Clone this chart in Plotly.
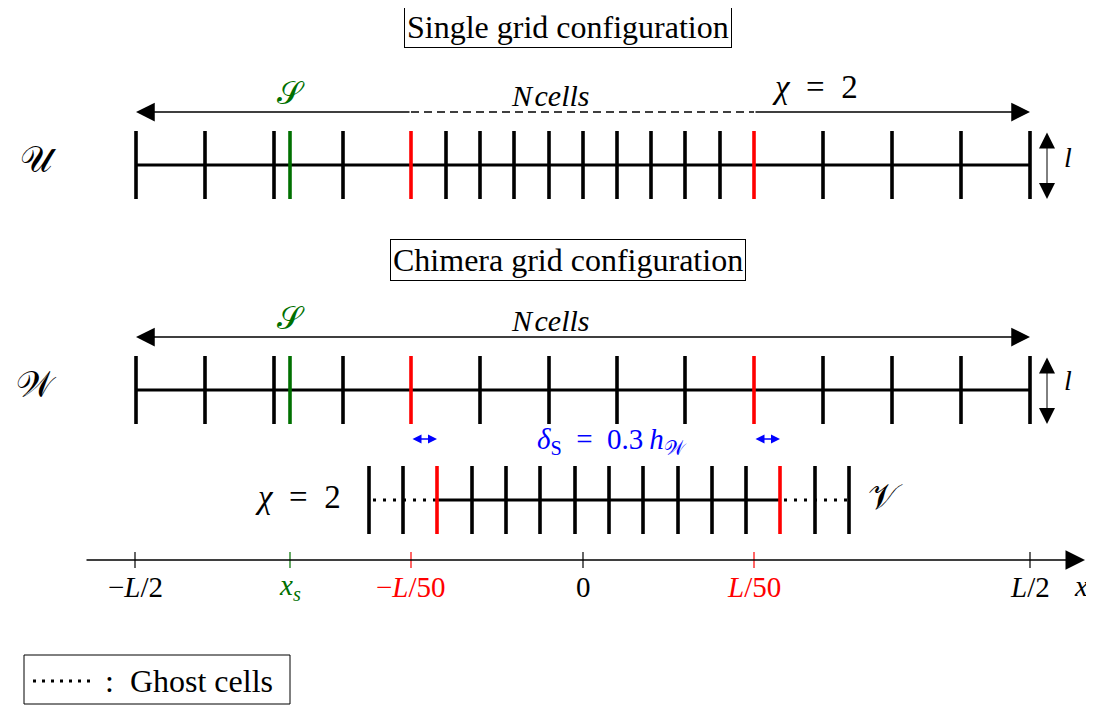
import plotly.graph_objects as go

FONT = "Liberation Serif"
GREEN = "#007000"
RED = "#ff0000"
BLUE = "#0000ff"

# ---------------- data (schematic positions, diagram units) ----------------
# single grid U : cell faces (coarse / refined by chi = 2 / coarse)
U_faces = [136, 205, 274, 343, 446, 480, 514, 549, 583, 617, 651, 685, 720, 823, 892, 961, 1030]
U_interfaces = [411, 754]
# chimera background grid W
W_faces = [136, 205, 274, 343, 480, 549, 617, 685, 823, 892, 961, 1030]
W_interfaces = [411, 754]
# chimera patch grid V (ghost faces + fluid faces + interfaces)
V_faces = [472, 506, 540, 575, 609, 643, 678, 712, 746]
V_ghost_faces = [369, 403, 815, 849]
V_interfaces = [437, 780]
# source position
source_x = 290
# x axis
axis_ticks = [135, 290, 411, 583, 754, 1030]
axis_labels = ["−<i>L</i>/2", "<i>x<sub>s</sub></i>", "−<i>L</i>/50", "0", "<i>L</i>/50", "<i>L</i>/2"]
axis_colors = ["black", GREEN, RED, "black", RED, "black"]

# row levels
yU, yW, yV, yA = 165, 390, 500, 560
h = 34
TW = 3.6   # face line width
HW = 3.2   # grid line width

fig = go.Figure()


def vsegs(xs, yc, half):
    X, Y = [], []
    for x in xs:
        X += [x, x, None]
        Y += [yc - half, yc + half, None]
    return X, Y


def add_line(X, Y, color="black", width=TW, dash="solid"):
    fig.add_trace(go.Scatter(x=X, y=Y, mode="lines", line=dict(color=color, width=width, dash=dash),
                             hoverinfo="skip", showlegend=False))


# ---- U row
add_line([min(U_faces), max(U_faces)], [yU, yU], width=HW)
add_line(*vsegs(U_faces, yU, h))
add_line(*vsegs(U_interfaces, yU, h), color=RED)
add_line(*vsegs([source_x], yU, h), color=GREEN)

# ---- W row
add_line([min(W_faces), max(W_faces)], [yW, yW], width=HW)
add_line(*vsegs(W_faces, yW, h))
add_line(*vsegs(W_interfaces, yW, h), color=RED)
add_line(*vsegs([source_x], yW, h), color=GREEN)

# ---- V row
add_line([V_interfaces[0], V_interfaces[1]], [yV, yV], width=HW)
add_line([V_ghost_faces[0] + 4, V_interfaces[0]], [yV, yV], width=3, dash="3px,7px")
add_line([V_interfaces[1] + 4, V_ghost_faces[-1]], [yV, yV], width=3, dash="3px,7px")
add_line(*vsegs(V_faces + V_ghost_faces, yV, h))
add_line(*vsegs(V_interfaces, yV, h), color=RED)

# ---- x axis ticks
for xt, col in zip(axis_ticks, axis_colors):
    add_line([xt, xt], [yA - 8, yA + 8], color=col, width=1.2)

# ---- Ncells arrow line in U (dashed in refined part)
yNU, yNW = 112, 337
add_line([U_interfaces[0], U_interfaces[1]], [yNU, yNU], width=1.5, dash="8px,5px")

# ---- legend ghost line
add_line([33, 95], [681, 681], width=3, dash="3px,6px")

ann = []


def arrow(x0, y0, x1, y1, color="black", width=1.5, size=2.2, both=False, head=2):
    ann.append(dict(x=x1, y=y1, ax=x0, ay=y0, xref="x", yref="y", axref="x", ayref="y",
                    showarrow=True, arrowhead=head, startarrowhead=head, arrowsize=size,
                    startarrowsize=size, arrowwidth=width, arrowcolor=color,
                    arrowside="end+start" if both else "end", text=""))


def text(x, y, s, size=24, color="black", xanchor="center"):
    ann.append(dict(x=x, y=y, xref="x", yref="y", text=s, showarrow=False,
                    font=dict(family=FONT, size=size, color=color), xanchor=xanchor, yanchor="middle"))


# arrows
arrow(U_interfaces[0], yNU, U_faces[0], yNU, size=2.5)
arrow(U_interfaces[1], yNU, U_faces[-1], yNU, size=2.5)
arrow(W_faces[0] + 20, yNW, W_faces[0], yNW, size=2.5)
arrow(W_faces[0] + 10, yNW, W_faces[-1], yNW, size=2.5)
arrow(1047, yU - h, 1047, yU + h, width=1, size=3.2, both=True)
arrow(1047, yW - h, 1047, yW + h, width=1, size=3.2, both=True)
arrow(W_interfaces[0], 439, V_interfaces[0], 439, color=BLUE, width=1.5, size=1.2, both=True)
arrow(W_interfaces[1], 439, V_interfaces[1], 439, color=BLUE, width=1.5, size=1.2, both=True)
arrow(85, yA, 1085, yA, width=1.5, size=2.6)

# titles in boxes
for (yy, s) in [(27, "Single grid configuration"), (260, "Chimera grid configuration")]:
    a = dict(x=568, y=yy, xref="x", yref="y", text=s, showarrow=False,
             font=dict(family=FONT, size=32, color="black"), bordercolor="black", borderwidth=1,
             borderpad=2, bgcolor="white")
    ann.append(a)

text(38, 160, "𝒰", size=36)
text(36, 385, "𝒲", size=36)
text(885, 497, "𝒱", size=36)
text(291, 93, "𝒮", size=32, color=GREEN)
text(291, 318, "𝒮", size=32, color=GREEN)
text(550, 95, "<i>N\u200acells</i>", size=30)
text(550, 320, "<i>N\u200acells</i>", size=30)
text(815, 87, "<i>χ</i>\u2002=\u20022", size=33)
text(298, 497, "<i>χ</i>\u2002=\u20022", size=33)
text(612, 441, "<i>δ</i><sub>S</sub>\u2002=\u20020.3\u2009<i>h</i><sub>𝒲</sub>", size=29, color=BLUE)
text(1068, 157, "<i>l</i>", size=28)
text(1068, 380, "<i>l</i>", size=28)
for xt, lab, col in zip(axis_ticks, axis_labels, axis_colors):
    text(xt, 587, lab, size=29, color=col)
text(1081, 586, "<i>x</i>", size=29)
text(103, 681, ":\u2002Ghost cells", size=32, xanchor="left")

# the page body has an 8 px margin: shift the drawing area so diagram units = window pixels
OFF = 8
fig.update_layout(
    width=1094 - OFF, height=706 - OFF, margin=dict(l=0, r=0, t=0, b=0),
    paper_bgcolor="white", plot_bgcolor="white", showlegend=False,
    xaxis=dict(range=[OFF, 1094], visible=False, fixedrange=True),
    yaxis=dict(range=[706, OFF], visible=False, fixedrange=True),
    annotations=ann,
    shapes=[dict(type="rect", xref="x", yref="y", x0=24, x1=290, y0=655, y1=704,
                 line=dict(color="black", width=1))],
)

fig.write_html("out.html")
